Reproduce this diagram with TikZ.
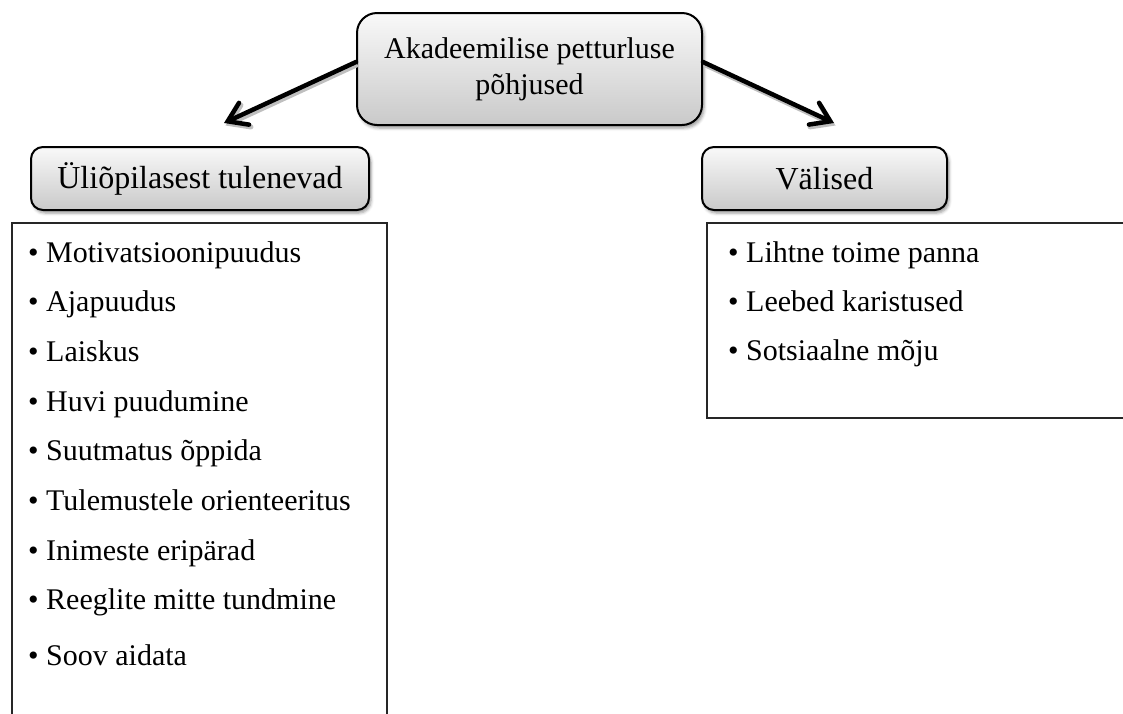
\documentclass[tikz,border=0pt]{standalone}
\usepackage{fontspec}
\setmainfont{Liberation Serif}
\usetikzlibrary{arrows.meta}
\usetikzlibrary{shadows.blur}
\newcommand\listfont{\fontsize{30}{36}\selectfont}
\newcommand\boxfont{\fontsize{32}{38}\selectfont}

\begin{document}
\begin{tikzpicture}[x=1pt, y=-1pt,
	headbox/.style={draw, line width=2pt, rounded corners=12pt, top color=gray!5, bottom color=gray!42,
		blur shadow={shadow xshift=2pt, shadow yshift=-3pt, shadow blur radius=3pt}, inner sep=0pt, align=center},
	causearrow/.style={line width=4.5pt, line cap=round, -{Straight Barb[length=18pt, width=24pt, line cap=round]},
		preaction={draw, black!25, line width=5pt, transform canvas={shift={(1.5pt,-2.5pt)}}, -{Straight Barb[length=18pt, width=24pt, line cap=round]}}},
	listframe/.style={draw, line width=1.3pt, black!85},
	listitem/.style={anchor=base west, inner sep=0pt, font=\listfont}]

	% Fixing the page and cutting off what runs over it
	\useasboundingbox (0,0) rectangle (1123,713);
	\clip (0,0) rectangle (1123,713);

	% Drawing the main box and the two groups
	\node [headbox, rounded corners=20pt, minimum width=345pt, minimum height=112pt, font=\listfont] (causes) at (529.5,69) {Akadeemilise petturluse\\põhjused};
	\node [headbox, minimum width=338pt, minimum height=63pt, font=\boxfont] (student) at (200,178.5) {Üliõpilasest tulenevad};
	\node [headbox, minimum width=245pt, minimum height=63pt, font=\boxfont] (external) at (824.5,178.5) {Välised};

	% Drawing the arrows
	\coordinate (lefttip) at (224,123);
	\coordinate (righttip) at (834,123);
	\draw [causearrow] ([yshift=7pt]causes.west) -- (lefttip);
	\draw [causearrow] ([yshift=7pt]causes.east) -- (righttip);

	% Drawing the list frames
	\draw [listframe] (12,223) rectangle (387,740);
	\draw [listframe] (707,223) rectangle (1140,418);

	% Listing the causes
	\foreach \cause [count=\i from 0] in {Motivatsioonipuudus, Ajapuudus, Laiskus, Huvi puudumine, Suutmatus õppida, Tulemustele orienteeritus, Inimeste eripärad, Reeglite mitte tundmine}
		\node [listitem] (student\i) at (28,262+49.7*\i) {• \cause};
	\node [listitem] (student8) at (28,665) {• Soov aidata};

	\foreach \cause [count=\i from 0] in {Lihtne toime panna, Leebed karistused, Sotsiaalne mõju}
		\node [listitem] (external\i) at (728,262+49*\i) {• \cause};

\end{tikzpicture}
\end{document}
